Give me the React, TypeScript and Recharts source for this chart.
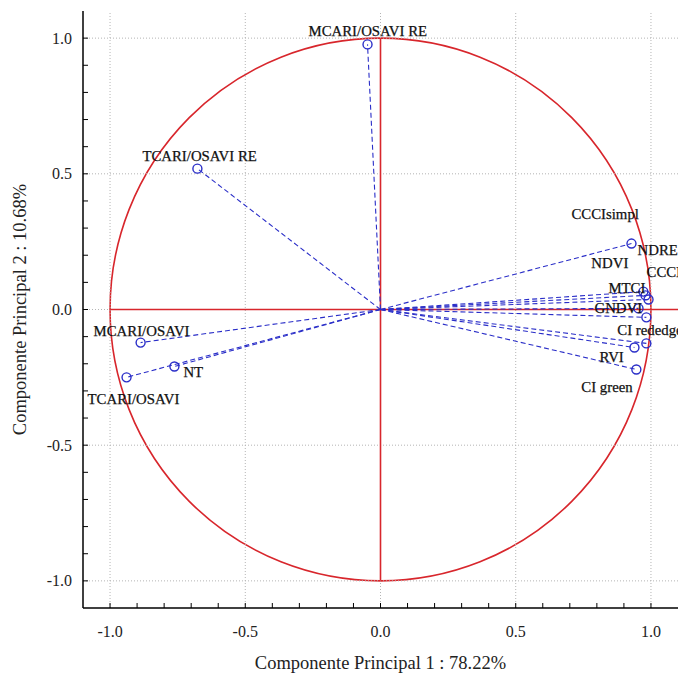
import React from 'react';
import { ScatterChart, Scatter, XAxis, YAxis, ReferenceLine, ReferenceArea } from 'recharts';

// variable names and loadings on the first two components
const variables = [
  'MCARI/OSAVI RE', 'TCARI/OSAVI RE', 'MCARI/OSAVI', 'TCARI/OSAVI', 'NT',
  'CCCIsimpl', 'NDRE', 'NDVI', 'CCCI', 'MTCI', 'GNDVI', 'CI rededge', 'RVI', 'CI green',
];
const pc1 = [-0.048, -0.677, -0.887, -0.939, -0.762, 0.928, 0.98, 0.983, 0.991, 0.972, 0.954, 0.983, 0.939, 0.946];
const pc2 = [0.977, 0.519, -0.122, -0.25, -0.21, 0.243, 0.052, -0.029, 0.037, 0.066, 0.004, -0.125, -0.14, -0.221];

const axisTicks = [
  -1.0, -0.9, -0.8, -0.7, -0.6, -0.5, -0.4, -0.3, -0.2, -0.1, 0,
  0.1, 0.2, 0.3, 0.4, 0.5, 0.6, 0.7, 0.8, 0.9, 1.0,
];
const majorTicks = [-1.0, -0.5, 0, 0.5, 1.0];

const xTitle = 'Componente Principal 1 : 78.22%';
const yTitle = 'Componente Principal 2 : 10.68%';

// where each name sits relative to its marker (px)
const labelOffset: Record<string, [number, number]> = {
  'MCARI/OSAVI RE': [-59, -13],
  'TCARI/OSAVI RE': [-55, -13],
  'MCARI/OSAVI': [-47, -12],
  'TCARI/OSAVI': [-39, 22],
  'NT': [9, 6],
  'CCCIsimpl': [-60, -30],
  'NDRE': [-8, -45],
  'NDVI': [-55, -54],
  'CCCI': [-2, -27],
  'MTCI': [-35, -4],
  'GNDVI': [-44, 0],
  'CI rededge': [-29, -13],
  'RVI': [-35, 10],
  'CI green': [-55, 18],
};

const data = variables.map((name, i) => ({ name, x: pc1[i], y: pc2[i] }));

const FONT = '"Liberation Serif", "Times New Roman", serif';
const BLUE = '#2a2ec8';
const RED = '#d8262c';
const isMajor = (v: number) => Math.abs(v * 2 - Math.round(v * 2)) < 1e-6;

const BottomTick = ({ x, y, payload }: any) => (
  <g>
    <line x1={x} y1={y} x2={x} y2={y - 5} stroke="#000" />
    {isMajor(payload.value) && (
      <text x={x} y={y + 23} textAnchor="middle" dominantBaseline="central"
        fontFamily={FONT} fontSize={16} fill="#222">
        {payload.value.toFixed(1)}
      </text>
    )}
  </g>
);

const TopTick = ({ x, y }: any) => (
  <line x1={x} y1={y} x2={x} y2={y + 5} stroke="#000" />
);

const LeftTick = ({ x, y, payload }: any) => (
  <g>
    <line x1={x} y1={y} x2={x + 5} y2={y} stroke="#000" />
    {isMajor(payload.value) && (
      <text x={x - 11} y={y} textAnchor="end" dominantBaseline="central"
        fontFamily={FONT} fontSize={16} fill="#222">
        {payload.value.toFixed(1)}
      </text>
    )}
  </g>
);

const Marker = (props: any) => {
  const { cx, cy, payload } = props;
  const [dx, dy] = labelOffset[payload.name] ?? [5, 0];
  return (
    <g>
      <circle cx={cx} cy={cy} r={4.5} fill="none" stroke={BLUE} strokeWidth={1.4} />
      <text x={cx + dx} y={cy + dy} dominantBaseline="central" fontFamily={FONT}
        fontSize={14.8} fill="#111" stroke="#111" strokeWidth={0.25}>
        {payload.name}
      </text>
    </g>
  );
};

export default function App() {
  return (
    <div style={{ position: 'absolute', left: 0, top: 0, background: '#fff' }}>
      <ScatterChart width={678} height={674} margin={{ top: 11, right: 0, bottom: 0, left: 0 }}>
        <XAxis
          type="number" dataKey="x" domain={[-1.1, 1.1]} ticks={axisTicks} interval={0}
          height={66} tickSize={0} tickMargin={0} tick={<BottomTick />}
          axisLine={{ stroke: '#000', strokeWidth: 1.5 }}
          label={({ viewBox }: any) => (
            <text x={viewBox.x + viewBox.width / 2} y={viewBox.y + 55} textAnchor="middle"
              dominantBaseline="central" fontFamily={FONT} fontSize={18.5} fill="#222">
              {xTitle}
            </text>
          )}
        />
        <XAxis
          xAxisId="top" orientation="top" type="number" dataKey="x" domain={[-1.1, 1.1]}
          ticks={axisTicks} interval={0} height={0} tickSize={0} tickMargin={0}
          tick={<TopTick />} axisLine={{ stroke: '#000', strokeWidth: 1.5 }}
        />
        <YAxis
          type="number" dataKey="y" domain={[-1.1, 1.1]} ticks={axisTicks} interval={0}
          width={83} tickSize={0} tickMargin={0} tick={<LeftTick />}
          axisLine={{ stroke: '#000', strokeWidth: 1.5 }}
          label={({ viewBox }: any) => {
            const cy = viewBox.y + viewBox.height / 2;
            return (
              <text x={20} y={cy} transform={`rotate(-90, 20, ${cy})`} textAnchor="middle"
                dominantBaseline="central" fontFamily={FONT} fontSize={18.5} fill="#222">
                {yTitle}
              </text>
            );
          }}
        />

        {majorTicks.map((v) => (
          <ReferenceLine key={`gx${v}`} x={v} stroke="#b4b4b4" strokeDasharray="1 2" />
        ))}
        {majorTicks.map((v) => (
          <ReferenceLine key={`gy${v}`} y={v} stroke="#b4b4b4" strokeDasharray="1 2" />
        ))}

        <ReferenceArea
          x1={-1} x2={1} y1={-1} y2={1}
          shape={(p: any) => (
            <ellipse cx={p.x + p.width / 2} cy={p.y + p.height / 2} rx={p.width / 2}
              ry={p.height / 2} fill="none" stroke={RED} strokeWidth={1.6} />
          )}
        />
        <ReferenceLine segment={[{ x: -1, y: 0 }, { x: 1.1, y: 0 }]} stroke={RED} strokeWidth={1.6} />
        <ReferenceLine segment={[{ x: 0, y: -1 }, { x: 0, y: 1 }]} stroke={RED} strokeWidth={1.6} />

        {data.map((d) => (
          <ReferenceLine key={`v${d.name}`} segment={[{ x: 0, y: 0 }, { x: d.x, y: d.y }]}
            stroke={BLUE} strokeWidth={1.1} strokeDasharray="5 3" />
        ))}

        <Scatter data={data} shape={<Marker />} isAnimationActive={false} />
      </ScatterChart>
    </div>
  );
}
